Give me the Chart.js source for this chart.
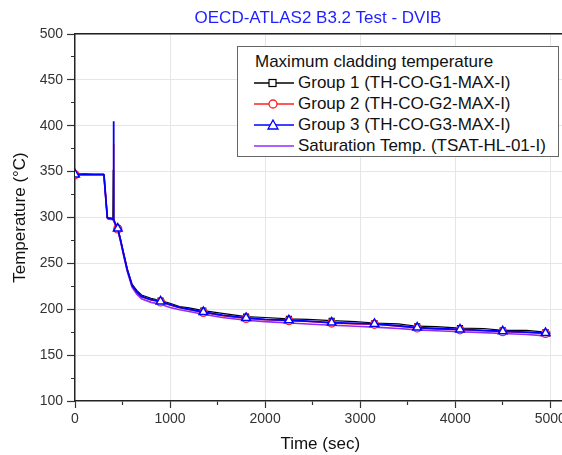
<!DOCTYPE html>
<html>
<head>
<meta charset="utf-8">
<script src="https://cdn.jsdelivr.net/npm/chart.js@4.4.0/dist/chart.umd.min.js"></script>
<style>
  body { margin: 0; background: #fff; overflow: hidden; font-family: "Liberation Sans", Arial, sans-serif; }
  #wrap { position: relative; width: 572px; height: 455px; }
  #title { position: absolute; left: 0; width: 636px; top: 9px; text-align: center; font-size: 17px; line-height: 17px; color: #1f1fff; }
  #legend { position: absolute; left: 237px; top: 46px; width: 322px; box-sizing: border-box; border: 1px solid #666; background: #fff;
            padding: 4px 0 0 16px; font-size: 17px; line-height: 21px; color: #111; }
  #legend .head { margin-left: 1px; }
  #legend .item { display: flex; align-items: center; height: 21px; white-space: nowrap; }
  #legend svg { width: 40px; height: 12px; margin-right: 4px; flex: none; }
</style>
</head>
<body>
<div id="wrap">
  <canvas id="chart" width="572" height="455"></canvas>
  <div id="title">OECD-ATLAS2 B3.2 Test - DVIB</div>
  <div id="legend"></div>
</div>
<script>
// time axis (sec)
const times = [0, 100, 200, 300, 305, 340, 350, 385, 398, 402, 405, 409, 420, 450, 480, 510, 550, 600, 650, 700,
  800, 900, 1000, 1100, 1200, 1350, 1550, 1800, 2000, 2250, 2450, 2700, 2950, 3150, 3400, 3600, 3800, 4050, 4300, 4500,
  4750, 4950, 5000];

// Group 1 (TH-CO-G1-MAX-I)
const group1 = [347, 347.5, 347, 347, 346, 300, 299.5, 299, 298.5, 352, 300, 298, 294.5, 288.5, 276, 262, 244, 227.5, 220.5, 215.5,
  212, 209.5, 206.5, 203, 201.5, 198.5, 195.5, 192, 191, 189.5, 189, 187.5, 186.5, 185, 184, 181.5, 181, 179.5, 179, 177,
  177, 175, 175];

// Group 2 (TH-CO-G2-MAX-I)
const group2 = [346.6, 346.6, 346.6, 346.6, 345.6, 299.6, 298.6, 298.6, 297.6, 297.6, 380, 297.6, 293.6, 287.6, 274.6, 260.6, 242.6, 225.6, 218.6, 213.6,
  210, 208, 204.6, 201.6, 199.6, 196.6, 193, 190, 188.6, 187.6, 186.6, 185, 184, 183.6, 181.6, 179.6, 178.6, 177.6, 176.6, 175.6,
  174.6, 173.6, 173];

// Group 3 (TH-CO-G3-MAX-I)
const group3 = [347, 347, 347, 347, 346, 300, 299, 299, 298, 298, 405, 298, 294, 288, 275, 261, 243, 226, 219, 214,
  210.5, 208.5, 205, 202, 200, 197, 193.5, 190.5, 189, 188, 187, 185.5, 184.5, 184, 182, 180, 179, 178, 177, 176,
  175, 174, 173.5];

// Saturation Temp. (TSAT-HL-01-I)
const tsat = [346.5, 346.5, 346.5, 346.5, 345.5, 299.5, 298.5, 298, 297.5, 297.5, 297.5, 297, 293, 286.5, 273.5, 259, 241, 224, 216.5, 211.5,
  207.5, 205.5, 202, 199.5, 197.5, 194.5, 191, 188, 186.5, 185, 184, 182.5, 181.5, 180.5, 179, 177.5, 176.5, 175.5, 174.5, 173.5,
  172.5, 171, 170.5];

const markerTimes = [0, 450, 900, 1350, 1800, 2250, 2700, 3150, 3600, 4050, 4500, 4950];
const xTicks = [0, 500, 1000, 1500, 2000, 2500, 3000, 3500, 4000, 4500, 5000];
const yTicks = [100, 125, 150, 175, 200, 225, 250, 275, 300, 325, 350, 375, 400, 425, 450, 475, 500];

const legendTitle = 'Maximum cladding temperature';
const seriesNames = ['Group 1 (TH-CO-G1-MAX-I)', 'Group 2 (TH-CO-G2-MAX-I)', 'Group 3 (TH-CO-G3-MAX-I)', 'Saturation Temp. (TSAT-HL-01-I)'];

const FONT = '"Liberation Sans", Arial, sans-serif';
const AXIS = '#222';
const X_MAX = 5160;

function toXY(vals) {
  return times.map((t, i) => ({ x: t, y: vals[i] }));
}

function markerRadius(r) {
  return ctx => markerTimes.includes(times[ctx.dataIndex]) ? r : 0;
}

const datasets = [
  { label: seriesNames[0], data: toXY(group1), borderColor: '#000', borderWidth: 1.2,
    pointStyle: 'rect', pointRadius: markerRadius(3.5), pointBackgroundColor: '#fff', pointBorderColor: '#000', pointBorderWidth: 1.2, order: 2 },
  { label: seriesNames[1], data: toXY(group2), borderColor: '#ff2020', borderWidth: 1.5,
    pointStyle: 'circle', pointRadius: markerRadius(4), pointBackgroundColor: '#fff', pointBorderColor: '#ff2020', pointBorderWidth: 1.3, order: 1 },
  { label: seriesNames[2], data: toXY(group3), borderColor: '#0000ff', borderWidth: 1.8,
    pointStyle: 'triangle', pointRadius: markerRadius(5), pointBackgroundColor: '#fff', pointBorderColor: '#0000ff', pointBorderWidth: 1.5, order: 0 },
  { label: seriesNames[3], data: toXY(tsat), borderColor: '#8f2cff', borderWidth: 1.6,
    pointRadius: 0, order: 3 }
];
datasets.forEach(d => { d.tension = 0; d.fill = false; d.pointHoverRadius = 0; });

new Chart(document.getElementById('chart'), {
  type: 'line',
  data: { datasets },
  options: {
    responsive: false,
    animation: false,
    events: [],
    layout: { padding: { top: 34, left: 0, right: 0, bottom: 0 } },
    plugins: { legend: { display: false }, tooltip: { enabled: false }, title: { display: false } },
    scales: {
      x: {
        type: 'linear', min: 0, max: X_MAX,
        afterBuildTicks: s => { s.ticks = xTicks.map(v => ({ value: v })); },
        afterFit: s => { s.height = 54; },
        ticks: { font: { family: FONT, size: 14 }, color: '#333', padding: 3, maxRotation: 0, autoSkip: false,
                 callback: v => v % 1000 === 0 ? String(v) : '' },
        grid: {
          color: c => (c.tick && c.tick.value % 1000 === 0 && c.tick.value > 0) ? '#e6e6e6' : 'transparent',
          lineWidth: 1, tickLength: 7, tickColor: '#333', tickWidth: 1.2,
          tickBorderDash: c => (c.tick && c.tick.value % 1000 === 0) ? [] : [3.5, 20]
        },
        border: { color: AXIS, width: 1.5 },
        title: { display: true, text: 'Time (sec)', font: { family: FONT, size: 17 }, color: '#111', padding: { top: 4, bottom: 0 } }
      },
      x2: {
        type: 'linear', position: 'top', min: 0, max: X_MAX,
        afterFit: s => { s.height = 0; },
        ticks: { display: false },
        grid: { drawOnChartArea: false, drawTicks: false },
        border: { color: AXIS, width: 1.5 }
      },
      y: {
        type: 'linear', min: 100, max: 500,
        afterBuildTicks: s => { s.ticks = yTicks.map(v => ({ value: v })); },
        afterFit: s => { s.width = 75; },
        ticks: { font: { family: FONT, size: 14 }, color: '#333', padding: 4, autoSkip: false,
                 callback: v => v % 50 === 0 ? String(v) : '' },
        grid: {
          color: c => (c.tick && c.tick.value % 50 === 0 && c.tick.value > 100) ? '#e6e6e6' : 'transparent',
          lineWidth: 1, tickLength: 8, tickColor: '#333', tickWidth: 1.2,
          tickBorderDash: c => (c.tick && c.tick.value % 50 === 0) ? [] : [0, 4, 5]
        },
        border: { color: AXIS, width: 1.5 },
        title: { display: true, text: 'Temperature (°C)', font: { family: FONT, size: 17 }, color: '#111', padding: { top: 10, bottom: 0 } }
      }
    }
  }
});

// legend built from the same series styles
const icons = [
  '<line x1="0" y1="6" x2="40" y2="6" stroke="#000" stroke-width="1.3"/><rect x="15" y="2.5" width="7" height="7" fill="#fff" stroke="#000" stroke-width="1.2"/>',
  '<line x1="0" y1="6" x2="40" y2="6" stroke="#ff2020" stroke-width="1.5"/><circle cx="19" cy="6" r="4" fill="#fff" stroke="#ff2020" stroke-width="1.3"/>',
  '<line x1="0" y1="6" x2="40" y2="6" stroke="#0000ff" stroke-width="1.5"/><polygon points="19,1 24,10 14,10" fill="#fff" stroke="#0000ff" stroke-width="1.3"/>',
  '<line x1="0" y1="6" x2="40" y2="6" stroke="#8f2cff" stroke-width="1.6"/>'
];
const legend = document.getElementById('legend');
legend.innerHTML = '<div class="head">' + legendTitle + '</div>' +
  seriesNames.map((n, i) => '<div class="item"><svg viewBox="0 0 40 12">' + icons[i] + '</svg><span>' + n + '</span></div>').join('');
</script>
</body>
</html>
